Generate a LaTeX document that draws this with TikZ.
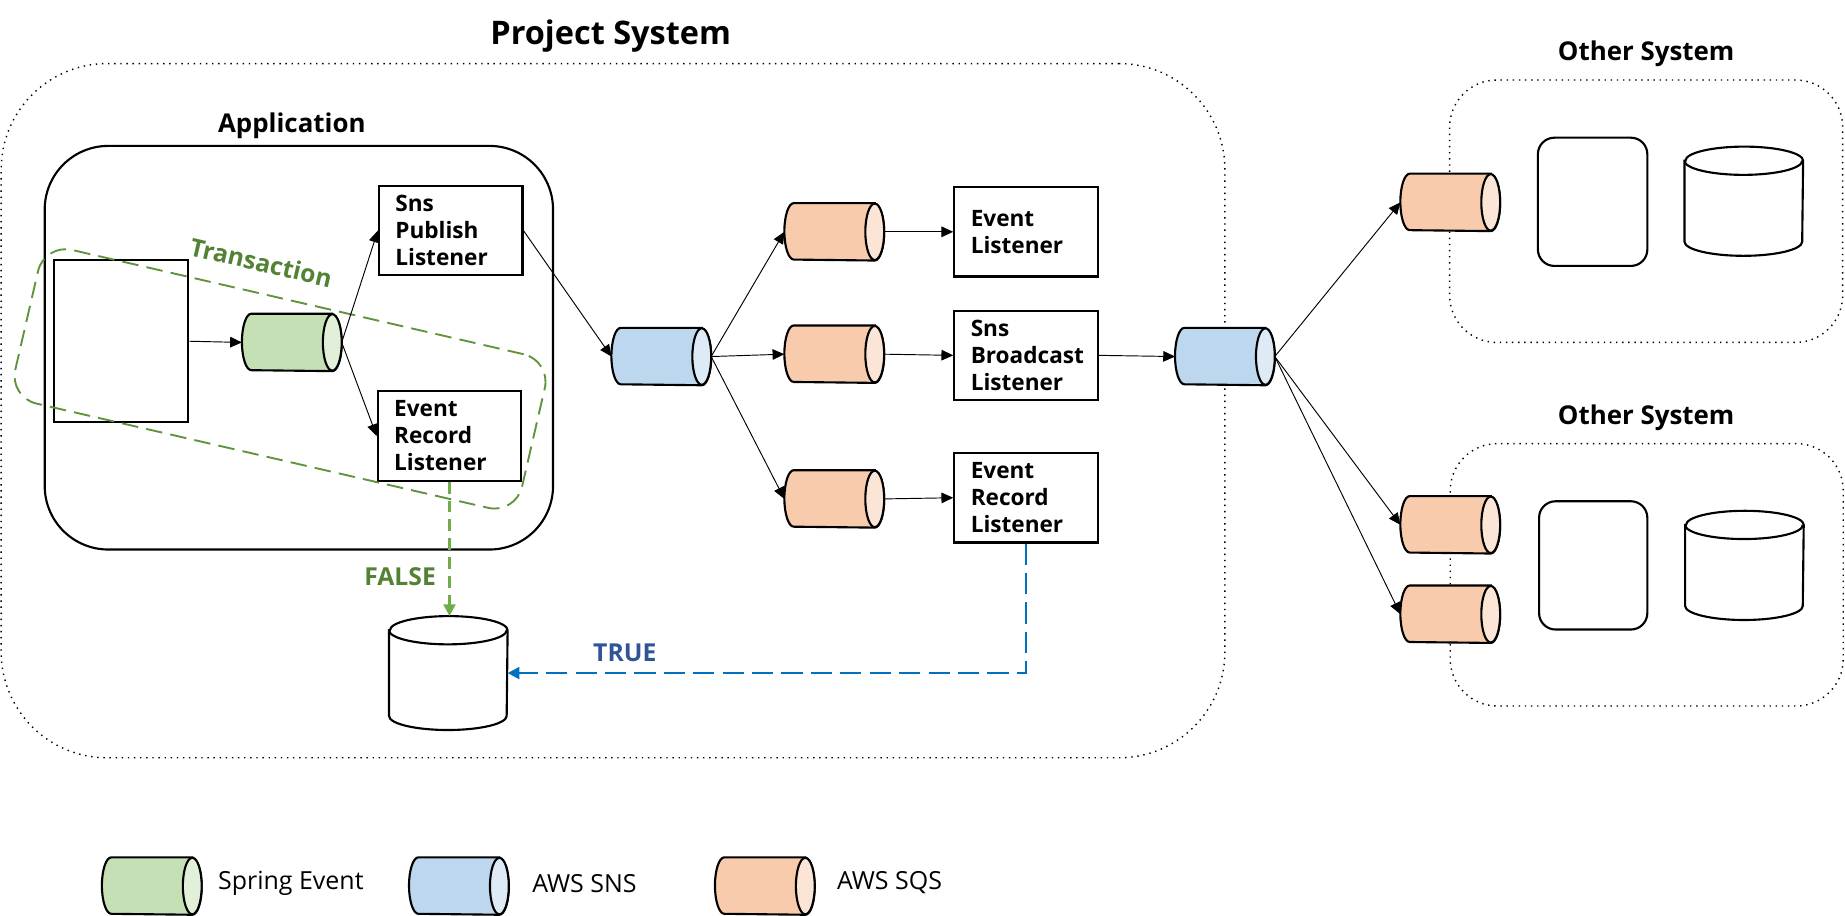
\documentclass[tikz,border=0pt]{standalone}
\usepackage{fontspec}
\setmainfont{Open Sans}
\usetikzlibrary{arrows.meta}
\definecolor{grB}{HTML}{C5E0B4}\definecolor{grE}{HTML}{E2F0D9}
\definecolor{blB}{HTML}{BDD7EE}\definecolor{blE}{HTML}{DEEBF7}
\definecolor{orB}{HTML}{F8CBAD}\definecolor{orE}{HTML}{FBE5D6}
\definecolor{txgreen}{HTML}{548235}\definecolor{lngreen}{HTML}{70AD47}
\definecolor{txblue}{HTML}{2F5597}\definecolor{lnblue}{HTML}{0070C0}
\tikzset{
 cylnode/.style={minimum width=42pt, minimum height=24pt, inner sep=0pt},
 cylline/.style={line width=0.9pt},
 lbox/.style={draw, line width=0.9pt, minimum width=61pt, minimum height=38pt, inner xsep=7pt,
   text width=47pt, align=left, font=\bfseries\fontsize{9.6}{11.5}\selectfont},
 arr/.style={-{Triangle[length=5pt,width=4.5pt]}, line width=0.4pt},
 dotbox/.style={draw, dotted, line width=0.6pt},
 ttl/.style={font=\bfseries\fontsize{11}{13}\selectfont},
 leg/.style={anchor=west, inner sep=0pt, font=\fontsize{10.6}{13}\selectfont},
}
% horizontal queue cylinder: name, x, y, body colour, end colour
\newcommand\mkhcyl[5]{%
 \node[cylnode] (#1) at (#2,#3) {};
 \filldraw[cylline, fill=#4] ([xshift=-4pt]#1.north east) -- ([xshift=4pt]#1.north west)
   arc[start angle=90,end angle=270,x radius=4pt,y radius=12pt] -- ([xshift=-4pt]#1.south east)
   arc[start angle=270,end angle=450,x radius=4pt,y radius=12pt] -- cycle;
 \filldraw[cylline, fill=#5] ([xshift=-4pt]#1.east) ellipse[x radius=4pt, y radius=12pt];
}
% vertical database cylinder: name, x, y, height
\newcommand\mkvcyl[4]{%
 \node[minimum width=50pt, minimum height=#4, inner sep=0pt] (#1) at (#2,#3) {};
 \filldraw[cylline, fill=white] ([yshift=-6pt]#1.north west) -- ([yshift=6pt]#1.south west)
   arc[start angle=180,end angle=360,x radius=25pt,y radius=6pt] -- ([yshift=-6pt]#1.north east)
   arc[start angle=0,end angle=180,x radius=25pt,y radius=6pt] -- cycle;
 \draw[cylline] ([yshift=-6pt]#1.north west) arc[start angle=180,end angle=360,x radius=25pt,y radius=6pt];
}
\begin{document}
\begin{tikzpicture}[x=0.5pt,y=-0.5pt]
\useasboundingbox (0,0) rectangle (1568,778);
% Project system
\node[ttl, font=\bfseries\fontsize{13.8}{16}\selectfont] (ptitle) at (519,31) {Project System};
\node[dotbox, rounded corners=45pt, minimum width=520pt, minimum height=295pt] (proj) at (521,349) {};
% Application
\node[ttl] (atitle) at (248,107) {Application};
\node[draw, line width=0.9pt, rounded corners=27pt, minimum width=216pt, minimum height=171.5pt] (app) at (254,295.5) {};
\node[draw, line width=0.9pt, fill=white, minimum width=57pt, minimum height=69pt] (svc) at (103,290) {};
\mkhcyl{spring}{248}{291}{grB}{grE}
\node[lbox] (snspub) at (383,196) {Sns\\Publish\\Listener};
\node[lbox] (erl1) at (382,370.5) {Event\\Record\\Listener};
% transaction
\node[draw=lngreen!85!black, dash pattern=on 7pt off 3.5pt, line width=0.8pt, rounded corners=12pt,
  rotate=-13, minimum width=221pt, minimum height=67pt] (tx) at (238,322) {};
\node[rotate=-13, text=txgreen, font=\bfseries\fontsize{10.5}{13}\selectfont] (txl) at (222,223) {Transaction};
\draw[arr] (svc.east) -- (spring.west);
\draw[arr] (spring.east) -- (snspub.west);
\draw[arr] (spring.east) -- (erl1.west);
% db
\mkvcyl{db}{381}{572}{48pt}
\draw[-{Triangle[length=5pt,width=5pt]}, lngreen, line width=1.1pt, dash pattern=on 5pt off 3pt] (erl1.south) -- (erl1.south |- db.north);
\node[text=txgreen, font=\bfseries\fontsize{10.5}{12}\selectfont] (false) at (340,490) {FALSE};
% SNS & SQS
\mkhcyl{sns1}{562}{303}{blB}{blE}
\mkhcyl{sqs1}{709}{197}{orB}{orE}
\mkhcyl{sqs2}{709}{301}{orB}{orE}
\mkhcyl{sqs3}{709}{424}{orB}{orE}
\node[lbox] (el) at (872,197) {Event\\Listener};
\node[lbox] (sbl) at (872,302) {Sns\\Broadcast\\Listener};
\node[lbox] (erl2) at (872,423) {Event\\Record\\Listener};
\draw[-{Triangle[length=5pt,width=5pt]}, lnblue, line width=1.2pt, dash pattern=on 9pt off 3.5pt] (erl2.south) |- (db.east);
\node[text=txblue, font=\bfseries\fontsize{10.5}{12}\selectfont] (true) at (531,555) {TRUE};
\draw[arr] (snspub.east) -- (sns1.west);
\draw[arr] (sns1.east) -- (sqs1.west);
\draw[arr] (sns1.east) -- (sqs2.west);
\draw[arr] (sns1.east) -- (sqs3.west);
\draw[arr] (sqs1.east) -- (el.west);
\draw[arr] (sqs2.east) -- (sbl.west);
\draw[arr] (sqs3.east) -- (erl2.west);
\mkhcyl{sns2}{1041}{303}{blB}{blE}
\draw[arr] (sbl.east) -- (sns2.west);
% other systems
\node[ttl] (o1t) at (1399,46) {Other System};
\node[dotbox, rounded corners=20pt, minimum width=167pt, minimum height=111.5pt] (o1) at (1399,179.5) {};
\node[draw, line width=0.9pt, rounded corners=7pt, minimum width=46.5pt, minimum height=54.5pt] (o1app) at (1353.5,171.5) {};
\mkvcyl{o1db}{1482}{171}{46pt}
\mkhcyl{o1q}{1232.5}{172}{orB}{orE}
\node[ttl] (o2t) at (1399,355) {Other System};
\node[dotbox, rounded corners=20pt, minimum width=167pt, minimum height=111.5pt] (o2) at (1399.5,488.5) {};
\node[draw, line width=0.9pt, rounded corners=7pt, minimum width=46pt, minimum height=54.5pt] (o2app) at (1354,480.5) {};
\mkvcyl{o2db}{1482.5}{480.5}{46pt}
\mkhcyl{o2qa}{1232.5}{446}{orB}{orE}
\mkhcyl{o2qb}{1232.5}{522}{orB}{orE}
\draw[arr] (sns2.east) -- (o1q.west);
\draw[arr] (sns2.east) -- (o2qa.west);
\draw[arr] (sns2.east) -- (o2qb.west);
% legend
\mkhcyl{lga}{129}{753}{grB}{grE}
\node[leg] (lgat) at (185,751) {Spring Event};
\mkhcyl{lgb}{390}{753}{blB}{blE}
\node[leg] (lgbt) at (452,751) {AWS SNS};
\mkhcyl{lgc}{650}{753}{orB}{orE}
\node[leg] (lgct) at (711,750) {AWS SQS};
\end{tikzpicture}
\end{document}
